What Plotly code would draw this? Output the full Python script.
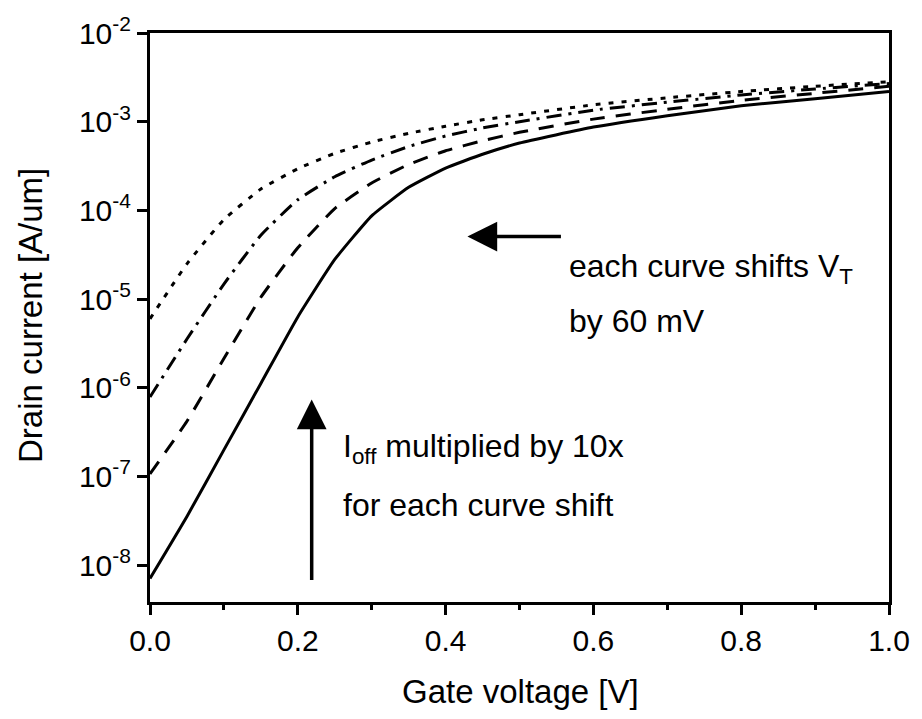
import plotly.graph_objects as go

# ---- data ----
gate_voltage = [0.0, 0.05, 0.1, 0.15, 0.2, 0.25, 0.3, 0.35, 0.4, 0.45, 0.5, 0.6, 0.7, 0.8, 0.9, 1.0]
curve_solid = [7.1e-9, 3.55e-8, 2.0e-7, 1.12e-6, 6.3e-6, 2.8e-5, 8.7e-5, 1.82e-4, 3.0e-4,
               4.3e-4, 5.75e-4, 8.7e-4, 1.17e-3, 1.51e-3, 1.82e-3, 2.19e-3]
curve_dash = [1.07e-7, 4.2e-7, 2.14e-6, 1.05e-5, 3.8e-5, 1.05e-4, 2.04e-4, 3.3e-4, 4.7e-4,
              6.1e-4, 7.6e-4, 1.07e-3, 1.38e-3, 1.74e-3, 2.09e-3, 2.51e-3]
curve_dashdot = [7.9e-7, 3.55e-6, 1.48e-5, 5.25e-5, 1.32e-4, 2.4e-4, 3.7e-4, 5.25e-4, 6.9e-4,
                 8.5e-4, 1.0e-3, 1.35e-3, 1.66e-3, 2.0e-3, 2.34e-3, 2.69e-3]
curve_dot = [6.0e-6, 2.5e-5, 7.9e-5, 1.74e-4, 2.95e-4, 4.4e-4, 5.9e-4, 7.4e-4, 8.9e-4,
             1.05e-3, 1.2e-3, 1.55e-3, 1.86e-3, 2.19e-3, 2.51e-3, 2.82e-3]

y_tickvals = [1e-8, 1e-7, 1e-6, 1e-5, 1e-4, 1e-3, 1e-2]
y_ticktext = ["10<sup>-8</sup>", "10<sup>-7</sup>", "10<sup>-6</sup>", "10<sup>-5</sup>",
              "10<sup>-4</sup>", "10<sup>-3</sup>", "10<sup>-2</sup>"]
x_tickvals = [0.0, 0.2, 0.4, 0.6, 0.8, 1.0]
x_ticktext = ["0.0", "0.2", "0.4", "0.6", "0.8", "1.0"]

FONT = "Liberation Sans, Arial, sans-serif"
W, H = 922, 719
L, R, T, B = 150, 895, 29, 602


def px(xp):
    return (xp - L) / (R - L)


def py(yp):
    return (B - yp) / (B - T)


fig = go.Figure()
styles = [
    (curve_solid, "solid"),
    (curve_dash, "15px,11px"),
    (curve_dashdot, "15px,7px,3px,7px"),
    (curve_dot, "5px,8px"),
]
for ys, dash in styles:
    fig.add_trace(go.Scatter(x=gate_voltage, y=ys, mode="lines",
                             line=dict(color="black", width=3, dash=dash, shape="spline",
                                       smoothing=0.4),
                             showlegend=False))

axis_common = dict(showline=True, linecolor="black", linewidth=3, mirror=True,
                   showgrid=False, zeroline=False, ticks="outside", ticklen=10,
                   tickwidth=3, tickcolor="black",
                   tickfont=dict(family=FONT, size=30, color="black"))

fig.update_xaxes(range=[0, 1], tickvals=x_tickvals, ticktext=x_ticktext,
                 minor=dict(ticks="outside", ticklen=5, tickwidth=3, tickcolor="black",
                            dtick=0.1, tick0=0, showgrid=False),
                 **axis_common)
fig.update_yaxes(type="log", range=[-8.414, -2], tickvals=y_tickvals, ticktext=y_ticktext,
                 **axis_common)

annos = []
# axis titles
annos.append(dict(text="Gate voltage [V]", x=px(524), y=py(692), xref="paper", yref="paper",
                  showarrow=False, xanchor="center", yanchor="middle",
                  font=dict(family=FONT, size=33, color="black")))
annos.append(dict(text="Drain current [A/um]", x=px(29), y=py(313), xref="paper", yref="paper",
                  showarrow=False, xanchor="center", yanchor="middle", textangle=-90,
                  font=dict(family=FONT, size=33, color="black")))
# text notes
txt_font = dict(family=FONT, size=32, color="black")
annos.append(dict(text="each curve shifts V<sub>T</sub>", x=px(570), y=py(266), xref="paper",
                  yref="paper", showarrow=False, xanchor="left", yanchor="middle", font=txt_font))
annos.append(dict(text="by 60 mV", x=px(570), y=py(319), xref="paper",
                  yref="paper", showarrow=False, xanchor="left", yanchor="middle", font=txt_font))
annos.append(dict(text="I<sub>off</sub> multiplied by 10x", x=px(343), y=py(447), xref="paper",
                  yref="paper", showarrow=False, xanchor="left", yanchor="middle", font=txt_font))
annos.append(dict(text="for each curve shift", x=px(343), y=py(504), xref="paper",
                  yref="paper", showarrow=False, xanchor="left", yanchor="middle", font=txt_font))
# arrows
annos.append(dict(text="", x=px(313), y=py(398), xref="paper", yref="paper",
                  ax=0, ay=182, showarrow=True, arrowhead=2, arrowsize=1.7, arrowwidth=3.5,
                  arrowcolor="black"))
annos.append(dict(text="", x=px(470), y=py(234), xref="paper", yref="paper",
                  ax=95, ay=0, showarrow=True, arrowhead=2, arrowsize=1.7, arrowwidth=3.5,
                  arrowcolor="black"))

fig.update_layout(width=W, height=H, margin=dict(l=L, r=W - R, t=T, b=H - B),
                  paper_bgcolor="white", plot_bgcolor="white", annotations=annos,
                  font=dict(family=FONT, color="black"))

fig.write_html("out.html")
